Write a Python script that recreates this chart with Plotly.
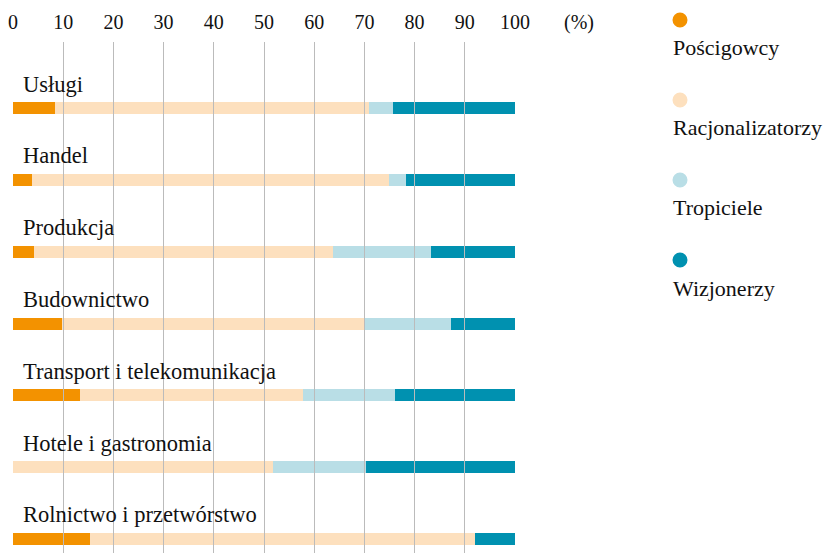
import plotly.graph_objects as go

categories = ["Usługi", "Handel", "Produkcja", "Budownictwo",
              "Transport i telekomunikacja", "Hotele i gastronomia",
              "Rolnictwo i przetwórstwo"]
series_names = ["Pościgowcy", "Racjonalizatorzy", "Tropiciele", "Wizjonerzy"]
poscigowcy = [8.3, 3.7, 4.1, 9.8, 13.3, 0.0, 15.4]
racjonalizatorzy = [62.7, 71.1, 59.7, 60.2, 44.5, 51.8, 76.7]
tropiciele = [4.6, 3.4, 19.4, 17.3, 18.2, 18.6, 0.0]
wizjonerzy = [24.4, 21.8, 16.8, 12.7, 24.0, 29.6, 7.9]
colors = ["#F39200", "#FDE0BE", "#B9DEE6", "#0091B0"]
tick_vals = [0, 10, 20, 30, 40, 50, 60, 70, 80, 90, 100]

FONT = "Liberation Serif"
W, H = 825, 553
TOP = 42


def px(x):
    return x / W


def py(y):
    return 1 - y / H


fig = go.Figure()
for name, vals, col in zip(series_names,
                           [poscigowcy, racjonalizatorzy, tropiciele, wizjonerzy],
                           colors):
    fig.add_trace(go.Bar(y=categories, x=vals, name=name, orientation="h",
                         marker=dict(color=col, line=dict(width=0)),
                         width=0.167, showlegend=False))

# category labels above bars
annotations = []
for c in categories:
    annotations.append(dict(x=0, y=c, xref="x", yref="y", text=c,
                            showarrow=False, xanchor="left", yanchor="middle",
                            xshift=8, yshift=24,
                            font=dict(family=FONT, size=22.5, color="#111")))

# "(%)" unit label
annotations.append(dict(x=px(579), y=py(22), xref="paper", yref="paper",
                        text="(%)", showarrow=False, xanchor="center",
                        yanchor="middle",
                        font=dict(family=FONT, size=20, color="#111")))

# custom legend: dot with label under it
shapes = []
leg_y = [20, 100, 180, 260]
for name, col, yy in zip(series_names, colors, leg_y):
    shapes.append(dict(type="circle", xref="paper", yref="paper",
                       xsizemode="pixel", ysizemode="pixel",
                       xanchor=px(680), yanchor=py(yy),
                       x0=-7.5, x1=7.5, y0=-7.5, y1=7.5,
                       fillcolor=col, line=dict(width=0)))
    annotations.append(dict(x=px(671), y=py(yy + 28), xref="paper",
                            yref="paper", text=name, showarrow=False,
                            xanchor="left", yanchor="middle",
                            font=dict(family=FONT, size=22, color="#111")))

fig.update_layout(
    width=W, height=H, barmode="stack", bargap=0,
    plot_bgcolor="white", paper_bgcolor="white",
    margin=dict(l=0, r=0, t=0, b=0, autoexpand=False),
    annotations=annotations, shapes=shapes,
    xaxis=dict(domain=[px(13), px(515)], range=[0, 100], side="top",
               tickvals=tick_vals, ticktext=[str(v) for v in tick_vals],
               ticks="inside", ticklen=520, tickcolor="#BBBBBB", tickwidth=1,
               ticklabelstandoff=8,
               layer="above traces", showgrid=False, zeroline=False,
               showline=False, fixedrange=True, automargin=False,
               tickfont=dict(family=FONT, size=20, color="#111")),
    yaxis=dict(domain=[0, py(TOP)], categoryorder="array",
               categoryarray=categories,
               range=[6.195, -0.919], showticklabels=False, showgrid=False,
               zeroline=False, showline=False, fixedrange=True,
               automargin=False),
)

fig.write_html("out.html",
               config={"displayModeBar": False},
               post_script="document.body.style.margin='0';"
                           "document.body.style.overflow='hidden';")
